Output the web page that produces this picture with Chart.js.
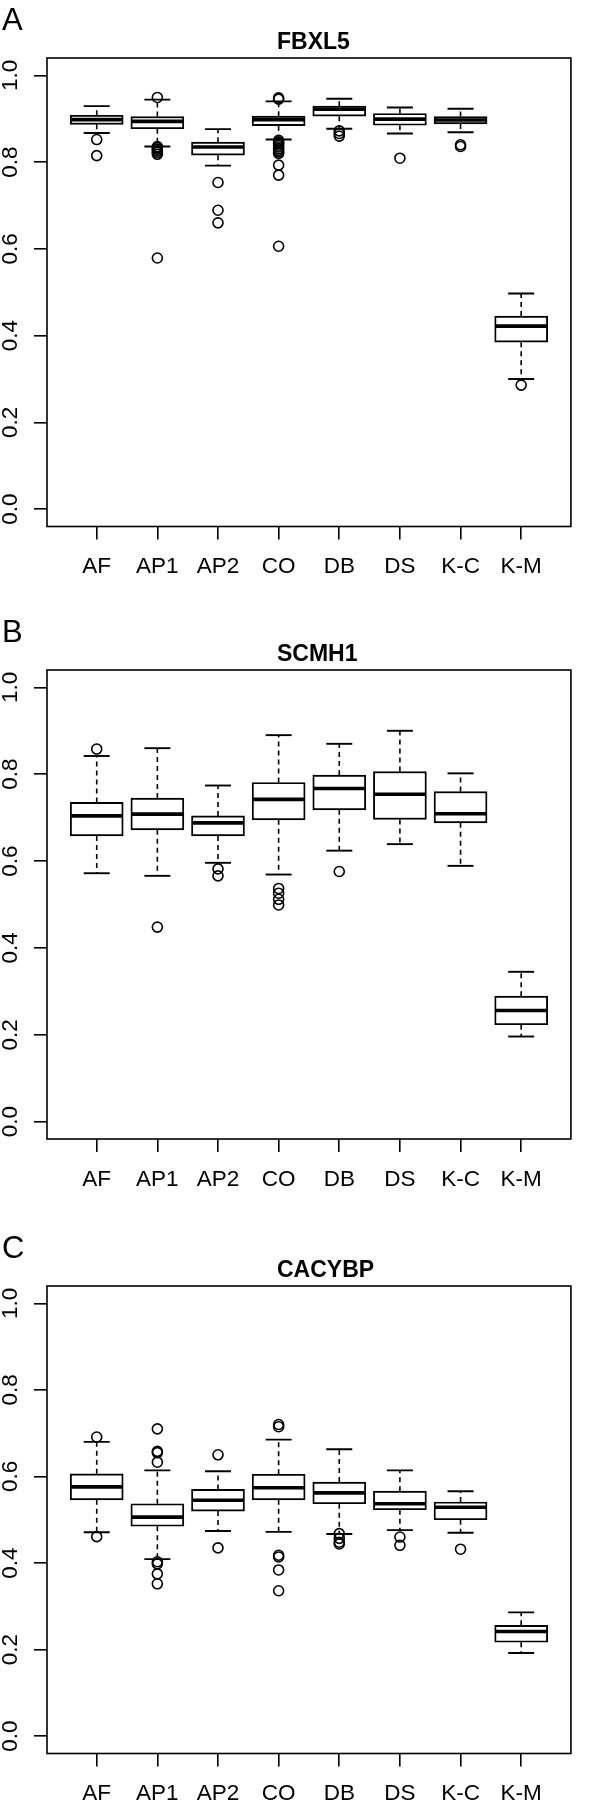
<!DOCTYPE html>
<html><head><meta charset="utf-8">
<script src="https://cdn.jsdelivr.net/npm/chart.js@4.4.0/dist/chart.umd.min.js"></script>
<style>
html,body{margin:0;padding:0;background:#fff;}
body{width:600px;height:1806px;position:relative;overflow:hidden;}
canvas{position:absolute;left:0;}
</style></head><body>
<canvas id="cA" width="600" height="612" style="top:0px"></canvas>
<canvas id="cB" width="600" height="616" style="top:612px"></canvas>
<canvas id="cC" width="600" height="578" style="top:1228px"></canvas>
<script>
// ---------- data ----------
const categories = ['AF','AP1','AP2','CO','DB','DS','K-C','K-M'];
const yTickValues = [0, 0.2, 0.4, 0.6, 0.8, 1.0];

// FBXL5
const fbxl5Lower  = [0.867, 0.836, 0.792, 0.852, 0.877, 0.866, 0.869, 0.300];
const fbxl5Q1     = [0.887, 0.877, 0.816, 0.884, 0.906, 0.885, 0.888, 0.385];
const fbxl5Median = [0.898, 0.894, 0.835, 0.898, 0.922, 0.899, 0.897, 0.422];
const fbxl5Q3     = [0.908, 0.905, 0.846, 0.906, 0.929, 0.912, 0.905, 0.445];
const fbxl5Upper  = [0.929, 0.944, 0.876, 0.940, 0.946, 0.926, 0.923, 0.497];
const fbxl5Outliers = [
  [0.852, 0.815],
  [0.949, 0.836, 0.833, 0.830, 0.826, 0.822, 0.818, 0.579],
  [0.753, 0.689, 0.660],
  [0.948, 0.945, 0.850, 0.846, 0.843, 0.839, 0.835, 0.831, 0.827, 0.823, 0.820, 0.793, 0.770, 0.606],
  [0.872, 0.866, 0.860],
  [0.809],
  [0.840, 0.836],
  [0.286]
];

// SCMH1
const scmh1Lower  = [0.572, 0.566, 0.596, 0.569, 0.624, 0.639, 0.589, 0.196];
const scmh1Q1     = [0.658, 0.672, 0.658, 0.695, 0.718, 0.696, 0.688, 0.223];
const scmh1Median = [0.704, 0.708, 0.688, 0.742, 0.767, 0.754, 0.709, 0.256];
const scmh1Q3     = [0.735, 0.745, 0.704, 0.781, 0.798, 0.806, 0.760, 0.289];
const scmh1Upper  = [0.842, 0.860, 0.774, 0.890, 0.870, 0.900, 0.802, 0.345];
const scmh1Outliers = [
  [0.858],
  [0.448],
  [0.582, 0.566],
  [0.537, 0.526, 0.512, 0.499],
  [0.576],
  [],
  [],
  []
];

// CACYBP
const cacybpLower  = [0.471, 0.409, 0.474, 0.472, 0.467, 0.476, 0.470, 0.192];
const cacybpQ1     = [0.546, 0.485, 0.520, 0.546, 0.537, 0.523, 0.500, 0.217];
const cacybpMedian = [0.576, 0.506, 0.545, 0.574, 0.562, 0.537, 0.529, 0.242];
const cacybpQ3     = [0.606, 0.537, 0.570, 0.605, 0.587, 0.566, 0.541, 0.256];
const cacybpUpper  = [0.680, 0.614, 0.612, 0.685, 0.663, 0.614, 0.566, 0.286];
const cacybpOutliers = [
  [0.691, 0.461],
  [0.710, 0.658, 0.655, 0.633, 0.403, 0.398, 0.375, 0.352],
  [0.650, 0.435],
  [0.720, 0.715, 0.418, 0.414, 0.384, 0.336],
  [0.468, 0.457, 0.448, 0.444],
  [0.460, 0.441],
  [0.432],
  []
];

// ---------- rendering ----------
Chart.defaults.font.family = "'Liberation Sans', Arial, sans-serif";
Chart.defaults.color = '#000';

const decor = {
  id: 'decor',
  afterDraw(chart, args, opts) {
    const {ctx, chartArea: a} = chart;
    ctx.save();
    ctx.strokeStyle = '#000';
    ctx.lineWidth = 1.6;
    ctx.strokeRect(a.left, a.top, a.right - a.left, a.bottom - a.top);
    ctx.fillStyle = '#000';
    ctx.textAlign = 'left';
    ctx.textBaseline = 'alphabetic';
    ctx.font = "bold 23px 'Liberation Sans', Arial, sans-serif";
    ctx.fillText(opts.title, opts.titleX, opts.titleY);
    ctx.font = "31px 'Liberation Sans', Arial, sans-serif";
    ctx.fillText(opts.letter, opts.letterX, opts.letterY);
    ctx.restore();
  }
};

function makePanel(id, letter, title, lower, q1, median, q3, upper, outliers, frameH) {
  const canvas = document.getElementById(id);
  const boxes = categories.map((c, i) => ({x: i + 1, y: [q1[i], q3[i]]}));
  const meds = categories.map((c, i) => ({x: i + 1, y: median[i]}));
  const caps = [];
  const whiskers = [];
  const outs = [];
  categories.forEach((c, i) => {
    caps.push({x: i + 1, y: lower[i]}, {x: i + 1, y: upper[i]});
    whiskers.push({x: i + 1, y: q3[i]}, {x: i + 1, y: upper[i]}, {x: i + 1, y: null},
                  {x: i + 1, y: q1[i]}, {x: i + 1, y: lower[i]}, {x: i + 1, y: null});
    outliers[i].forEach(v => outs.push({x: i + 1, y: v}));
  });
  const padTop = 58;
  return new Chart(canvas, {
    type: 'bar',
    data: {
      datasets: [
        {type: 'line', data: whiskers, borderColor: '#000', borderWidth: 1.6, borderDash: [5, 4],
         pointRadius: 0, spanGaps: false, fill: false, order: 5},
        {type: 'bar', data: boxes, backgroundColor: '#fff', borderColor: '#000', borderWidth: 1.9,
         borderSkipped: false, barThickness: 53, order: 4},
        {type: 'scatter', data: meds, pointStyle: 'line', pointRadius: 25.5, borderColor: '#000',
         borderWidth: 3.6, order: 3},
        {type: 'scatter', data: caps, pointStyle: 'line', pointRadius: 13, borderColor: '#000',
         borderWidth: 1.9, order: 2},
        {type: 'scatter', data: outs, pointStyle: 'circle', pointRadius: 5, borderColor: '#000',
         backgroundColor: 'rgba(0,0,0,0)', borderWidth: 1.6, order: 1}
      ]
    },
    options: {
      responsive: false,
      animation: false,
      devicePixelRatio: 1,
      layout: {padding: {top: padTop, right: 2, left: 0, bottom: 0}},
      plugins: {
        legend: {display: false},
        tooltip: {enabled: false},
        decor: {letter: letter, title: title, titleX: 277, titleY: 49, letterX: 2, letterY: 30}
      },
      scales: {
        x: {
          type: 'linear', min: 0.18, max: 8.82, offset: false,
          afterFit: s => { s.height = canvas.height - padTop - frameH; },
          afterBuildTicks: s => { s.ticks = categories.map((c, i) => ({value: i + 1})); },
          ticks: {
            autoSkip: false, maxRotation: 0, minRotation: 0, padding: 14,
            font: {size: 22.5},
            callback: v => categories[Math.round(v) - 1]
          },
          grid: {drawOnChartArea: false, drawTicks: true, tickLength: 13, color: '#000', lineWidth: 1.6, offset: false},
          border: {display: false}
        },
        y: {
          type: 'linear', min: -0.04, max: 1.04,
          afterFit: s => { s.width = 47; },
          afterBuildTicks: s => { s.ticks = yTickValues.map(v => ({value: v})); },
          ticks: {
            minRotation: 90, maxRotation: 90, crossAlign: 'center', padding: 8,
            font: {size: 22.5},
            callback: v => Number(v).toFixed(1)
          },
          grid: {drawOnChartArea: false, drawTicks: true, tickLength: 13, color: '#000', lineWidth: 1.6},
          border: {display: false}
        }
      }
    },
    plugins: [decor]
  });
}

makePanel('cA', 'A', 'FBXL5', fbxl5Lower, fbxl5Q1, fbxl5Median, fbxl5Q3, fbxl5Upper, fbxl5Outliers, 468.5);
makePanel('cB', 'B', 'SCMH1', scmh1Lower, scmh1Q1, scmh1Median, scmh1Q3, scmh1Upper, scmh1Outliers, 469);
makePanel('cC', 'C', 'CACYBP', cacybpLower, cacybpQ1, cacybpMedian, cacybpQ3, cacybpUpper, cacybpOutliers, 467.5);
</script>
</body></html>
